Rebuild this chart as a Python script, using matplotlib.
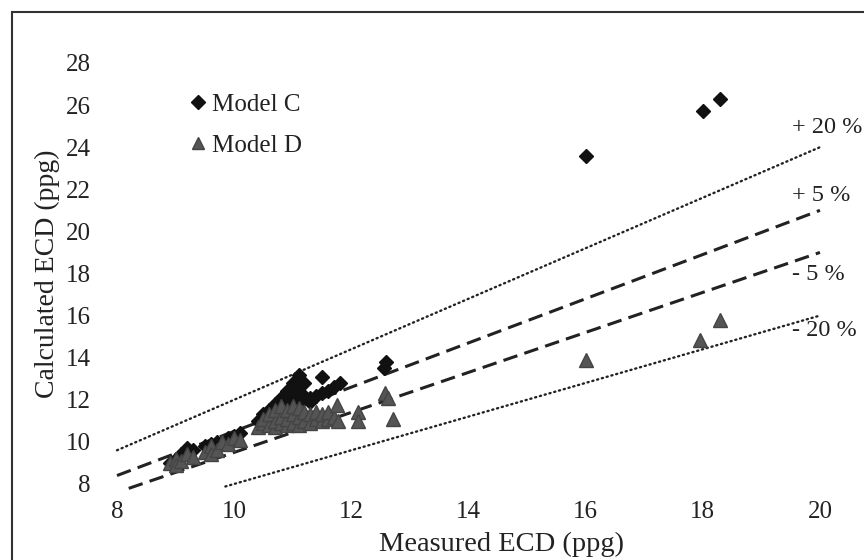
import matplotlib
matplotlib.use("Agg")
import matplotlib.pyplot as plt
import matplotlib.patches as patches
import numpy as np

plt.rcParams['font.family'] = ['Liberation Serif', 'DejaVu Serif']

# Model C (black diamonds): measured vs calculated ECD
c_measured = [8.9, 9.0, 9.1, 9.2, 9.3, 9.5, 9.6, 9.7, 9.9, 10.0, 10.1,
              10.4, 10.5, 10.6, 10.6, 10.7, 10.7, 10.8, 10.8, 10.9, 10.9, 10.9,
              11.0, 11.0, 11.0, 11.1, 11.1, 11.1, 11.2, 11.2, 11.3, 11.3,
              11.4, 11.5, 11.5, 11.6, 11.7, 11.8, 12.55, 12.6, 16.0, 18.0, 18.3]
c_calculated = [9.0, 9.2, 9.4, 9.7, 9.6, 9.8, 9.9, 10.0, 10.2, 10.3, 10.4,
                11.0, 11.3, 11.5, 11.2, 11.8, 11.4, 12.1, 11.6, 12.4, 12.0, 11.5,
                12.8, 12.3, 11.8, 13.2, 12.6, 12.0, 12.8, 12.2, 12.1, 11.9,
                12.2, 12.3, 13.1, 12.4, 12.6, 12.8, 13.5, 13.8, 23.6, 25.7, 26.3]

# Model D (grey triangles)
d_measured = [8.9, 9.0, 9.0, 9.1, 9.2, 9.3,
              9.5, 9.6, 9.6, 9.7, 9.8, 9.9, 10.0, 10.1,
              10.4, 10.5, 10.5, 10.6, 10.6, 10.7, 10.7, 10.7, 10.8, 10.8, 10.8,
              10.9, 10.9, 10.9, 11.0, 11.0, 11.0, 11.1, 11.1, 11.1, 11.2, 11.2,
              11.3, 11.3, 11.4, 11.4, 11.5, 11.5, 11.6, 11.6, 11.7,
              11.75, 11.78, 12.12, 12.12, 12.58, 12.63, 12.72, 16.0, 17.95, 18.3]
d_calculated = [9.0, 9.2, 8.9, 9.1, 9.4, 9.3,
                9.5, 9.8, 9.4, 9.6, 10.0, 9.9, 10.2, 10.1,
                10.7, 10.9, 11.1, 10.8, 11.3, 10.7, 11.0, 11.5, 10.9, 11.2, 11.7,
                10.8, 11.1, 11.5, 10.9, 11.3, 11.7, 10.8, 11.2, 11.6, 11.0, 11.4,
                10.9, 11.3, 11.1, 11.4, 11.0, 11.3, 11.1, 11.4, 11.2,
                11.75, 11.0, 11.4, 11.0, 12.3, 12.1, 11.1, 13.9, 14.85, 15.8]

# error bands: factor, x start, label, label y, style
bands = [(1.20, 8.0, '+ 20 %', 24.95, ':'),
         (1.05, 8.0, '+ 5 %', 21.7, '--'),
         (0.95, 8.2, '- 5 %', 17.95, '--'),
         (0.80, 9.85, '- 20 %', 15.3, ':')]

x_ticks = [8, 10, 12, 14, 16, 18, 20]
y_ticks = [8, 10, 12, 14, 16, 18, 20, 22, 24, 26, 28]

fig = plt.figure(figsize=(8.64, 5.6), dpi=100)
ax = fig.add_axes([0.1083, 0.1170, 0.8814, 0.7893])
ax.set_xlim(7.6, 20.6)
ax.set_ylim(7.5, 28.5)

txt = '#222222'
for f, x0, lab, ly, ls in bands:
    xs = np.array([x0, 20.0])
    if ls == ':':
        ax.plot(xs, f * xs, color='#222222', lw=1.7, dashes=(0.5, 1.6),
                dash_capstyle='round', clip_on=False)
    else:
        ax.plot(xs, f * xs, color='#222222', lw=2.2, dashes=(4.8, 2.4), clip_on=False)
    ax.text(19.52, ly, lab, fontsize=17.5, color=txt, ha='left', va='center')

ax.plot(c_measured, c_calculated, 'D', color='#111111', ms=7.5, mec='#111111',
        ls='none', label='Model C', clip_on=False)
ax.plot(d_measured, d_calculated, '^', color='#555555', ms=9.5, mec='#444444',
        ls='none', label='Model D', clip_on=False)

ax.set_xticks(x_ticks)
ax.set_yticks(y_ticks)
ax.tick_params(length=0, labelsize=18, labelcolor=txt)
ax.tick_params(axis='x', pad=5)
ax.tick_params(axis='y', pad=2)
for s in ax.spines.values():
    s.set_visible(False)

ax.set_xlabel('Measured ECD (ppg)', fontsize=20.5, color=txt)
ax.xaxis.set_label_coords(0.536, -0.085)
ax.set_ylabel('Calculated ECD (ppg)', fontsize=20, color=txt, labelpad=4)

leg = ax.legend(loc='upper left', bbox_to_anchor=(0.09, 0.958), frameon=False,
                fontsize=18, handletextpad=0.0, handlelength=1.1,
                labelspacing=0.72, markerscale=0.9, labelcolor=txt)

# outer frame (cut off at right and bottom like the scan)
frame = patches.Rectangle((12 / 864, -0.05), 1.1, 1 - 12 / 560 + 0.05,
                          transform=fig.transFigure, fill=False,
                          edgecolor='#333333', lw=1.5, clip_on=False)
fig.patches.append(frame)

fig.savefig('out.png', dpi=100)
